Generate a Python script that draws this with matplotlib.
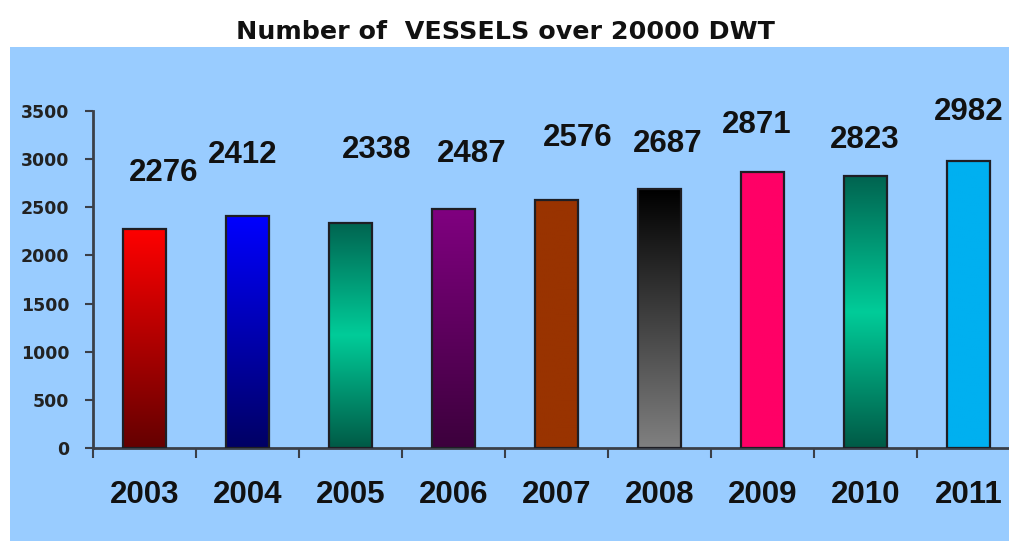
import numpy as np
import matplotlib
matplotlib.use("Agg")
import matplotlib.pyplot as plt
from matplotlib.colors import to_rgb
from matplotlib.patches import Rectangle

# data
years = ["2003", "2004", "2005", "2006", "2007", "2008", "2009", "2010", "2011"]
vessels = [2276, 2412, 2338, 2487, 2576, 2687, 2871, 2823, 2982]
y_ticks = [0, 500, 1000, 1500, 2000, 2500, 3000, 3500]

# bar fills, top -> bottom colour stops
fills = [
    ["#ff0000", "#640000"],
    ["#0000ff", "#000064"],
    ["#006450", "#00cc99", "#005a46"],
    ["#800080", "#3c003c"],
    ["#993300"],
    ["#000000", "#808080"],
    ["#ff0066"],
    ["#006450", "#00cc99", "#005a46"],
    ["#00b0f0"],
]

# where the value labels were dragged to (offset from bar centre, height)
label_dx = [0.19, -0.05, 0.25, 0.18, 0.21, 0.08, -0.06, -0.01, 0.0]
label_y = [2856, 3043, 3095, 3053, 3219, 3157, 3354, 3199, 3489]

BG = "#99ccff"
AXIS = "#3a3f48"
FONT = "Liberation Sans"


def gradient(stops, n=200):
    cols = np.array([to_rgb(c) for c in stops])
    if len(cols) == 1:
        cols = np.vstack([cols, cols])
    pos = np.linspace(0, 1, len(cols))
    t = np.linspace(0, 1, n)
    img = np.stack([np.interp(t, pos, cols[:, k]) for k in range(3)], axis=1)
    return img[:, None, :]


fig = plt.figure(figsize=(10.09, 5.41), dpi=100)
fig.patch.set_facecolor("white")
fig.patches.append(Rectangle((10 / 1009, 0), 1, 1 - 47 / 541,
                             transform=fig.transFigure, facecolor=BG,
                             edgecolor="none", zorder=-5))

ax = fig.add_axes([93 / 1009, 1 - 448 / 541, 927 / 1009, 337 / 541])
ax.set_facecolor("none")

x = np.arange(len(years))
width = 0.41
for i, (v, stops) in enumerate(zip(vessels, fills)):
    ax.imshow(gradient(stops), extent=[i - width / 2, i + width / 2, 0, v],
              aspect="auto", origin="upper", zorder=2, interpolation="bilinear")
ax.bar(x, vessels, width=width, facecolor="none", edgecolor="#1e1e24",
       linewidth=1.6, zorder=3)

for i, v in enumerate(vessels):
    ax.text(i + label_dx[i], label_y[i], str(v), ha="center", va="center",
            fontsize=22.5, fontweight="bold", family=FONT, color="#111111",
            clip_on=False)

ax.set_xlim(-0.5, len(years) - 0.5)
ax.set_ylim(0, 3500)

ax.set_yticks(y_ticks)
ax.set_yticklabels([str(t) for t in y_ticks], fontsize=12.5, fontweight="bold",
                   family="DejaVu Sans", color="#222222")
ax.tick_params(axis="y", length=6, width=1.5, color=AXIS, pad=11)

ax.set_xticks(np.arange(len(years) + 1) - 0.5)
ax.set_xticklabels([])
ax.set_xticks(x, minor=True)
ax.set_xticklabels(years, minor=True, fontsize=22.5, fontweight="bold",
                   family=FONT, color="#111111")
ax.tick_params(axis="x", which="major", length=7.5, width=1.5, color=AXIS)
ax.tick_params(axis="x", which="minor", length=0, pad=23)

for side in ["top", "right"]:
    ax.spines[side].set_visible(False)
for side in ["left", "bottom"]:
    ax.spines[side].set_color(AXIS)
    ax.spines[side].set_linewidth(2)

fig.text(505 / 1009, 1 - 32 / 541, "Number of  VESSELS over 20000 DWT",
         ha="center", va="center", fontsize=18.3, fontweight="bold",
         family="DejaVu Sans", color="#111111")

fig.savefig("out.png", dpi=100)
